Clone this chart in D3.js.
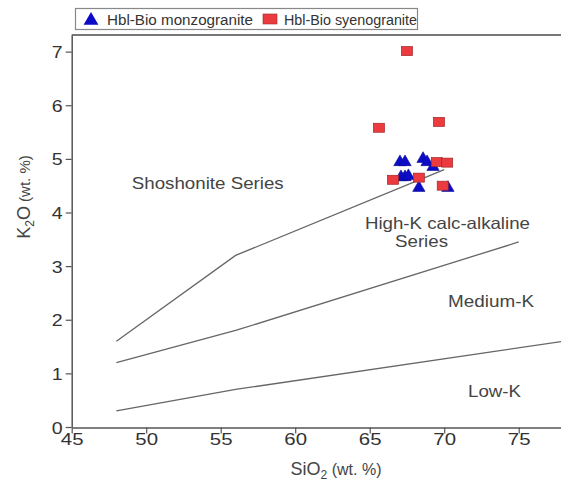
<!DOCTYPE html>
<html><head><meta charset="utf-8">
<script src="https://cdn.jsdelivr.net/npm/d3@7/dist/d3.min.js"></script>
<style>body{margin:0;background:#fff}svg{display:block}text{font-family:"Liberation Sans",Arial,sans-serif}</style>
</head><body>
<script>
const xTicks=[45,50,55,60,65,70,75];
const yTicks=[0,1,2,3,4,5,6,7];
const monzoSiO2=[67.03,67.37,68.58,68.85,69.25,67.10,67.37,67.6,68.3,70.25];
const monzoK2O=[4.94,4.94,5.00,4.94,4.85,4.66,4.66,4.68,4.46,4.46];
const syenoSiO2=[67.5,65.62,69.65,66.56,68.3,69.5,70.2,69.9];
const syenoK2O=[7.01,5.58,5.69,4.61,4.65,4.94,4.93,4.50];
const shoshLine=[[48,1.6],[56,3.2],[70,4.8]];
const highKLine=[[48,1.2],[56,1.8],[75,3.45]];
const lowKLine=[[48,0.3],[56,0.7],[78,1.6]];
const fieldText=["Shoshonite Series","High-K calc-alkaline","Series","Medium-K","Low-K"];
const fieldSiO2=[49.03,64.68,66.70,70.26,71.6];
const fieldK2O=[4.44,3.69,3.36,2.24,0.56];
const fieldWidth=[152,165,53,86,53];
const W=561,H=483;
const svg=d3.select("body").append("svg").attr("width",W).attr("height",H);
const x=d3.scaleLinear().domain([45,78]).range([71.7,563.4]);
const y=d3.scaleLinear().domain([0,7.31]).range([427,35]);
const axisCol="#555";
function stretch(sel,k){sel.each(function(){const w=this.getComputedTextLength();d3.select(this).attr("textLength",w*k).attr("lengthAdjust","spacingAndGlyphs");});}
svg.append("clipPath").attr("id","c").append("rect").attr("x",71).attr("y",34).attr("width",W-71).attr("height",394);
const g=svg.append("g").attr("clip-path","url(#c)");
const line=d3.line().x(d=>x(d[0])).y(d=>y(d[1]));
[shoshLine,highKLine,lowKLine].forEach(l=>{
 g.append("path").attr("d",line(l)).attr("fill","none").attr("stroke","#666").attr("stroke-width",1.3);
});
svg.append("line").attr("x1",71.7).attr("x2",W).attr("y1",35).attr("y2",35).attr("stroke","#777").attr("stroke-width",2);
const xa=svg.append("g").attr("transform","translate(0,427.5)").call(d3.axisBottom(x).tickValues(xTicks).tickSize(6).tickSizeOuter(0));
const ya=svg.append("g").attr("transform","translate(71.7,0)").call(d3.axisLeft(y).tickValues(yTicks).tickSize(6).tickSizeOuter(0));
[xa,ya].forEach(a=>{a.select(".domain").attr("stroke",axisCol).attr("stroke-width",1.5);
 a.selectAll(".tick line").attr("stroke",axisCol).attr("stroke-width",1.2);
 a.selectAll(".tick text").attr("fill","#333").style("font-size","17px").style("font-family","'Liberation Sans',Arial,sans-serif");});
xa.selectAll(".tick text").attr("dy",null).attr("y",17.5);
ya.selectAll(".tick text").attr("x",-9).attr("dy","0.36em");
stretch(xa.selectAll(".tick text"),1.2);
stretch(ya.selectAll(".tick text"),1.15);
fieldText.forEach((s,i)=>{
 svg.append("text").attr("x",x(fieldSiO2[i])).attr("y",y(fieldK2O[i])).attr("fill","#444")
  .style("font-size","16.5px").attr("textLength",fieldWidth[i]).attr("lengthAdjust","spacingAndGlyphs").text(s);
});
const monzo=monzoSiO2.map((s,i)=>[s,monzoK2O[i]]);
const syeno=syenoSiO2.map((s,i)=>[s,syenoK2O[i]]);
const tri=d3.symbol().type(d3.symbolTriangle).size(66);
g.selectAll(".tri").data(monzo).join("path").attr("d",tri)
 .attr("transform",d=>`translate(${x(d[0])},${y(d[1])})`).attr("fill","#0b0bc8").attr("stroke","#0a0a90").attr("stroke-width",0.6);
g.selectAll(".sq").data(syeno).join("rect").attr("x",d=>x(d[0])-5.5).attr("y",d=>y(d[1])-4.5)
 .attr("width",11).attr("height",9).attr("fill","#ec3b3f").attr("stroke","#a02528").attr("stroke-width",0.7);
const xt=svg.append("text").attr("x",336).attr("y",475).attr("text-anchor","middle").attr("fill","#444").style("font-size","18px");
xt.append("tspan").text("SiO");
xt.append("tspan").attr("dy",3.5).style("font-size","12px").text("2");
xt.append("tspan").attr("dy",-3.5).style("font-size","16px").text(" (wt. %)");
const yt=svg.append("text").attr("transform","translate(30,197) rotate(-90)").attr("text-anchor","middle").attr("fill","#444").style("font-size","18px");
yt.append("tspan").text("K");
yt.append("tspan").attr("dy",4).style("font-size","12px").text("2");
yt.append("tspan").attr("dy",-4).text("O");
yt.append("tspan").style("font-size","15px").text(" (wt. %)");
const lg=svg.append("g");
lg.append("rect").attr("x",75.5).attr("y",8.5).attr("width",342).attr("height",21).attr("fill","#fff").attr("stroke","#888").attr("stroke-width",1.2);
lg.append("path").attr("d",d3.symbol().type(d3.symbolTriangle).size(95)()).attr("transform","translate(91,20.5)").attr("fill","#0b0bc8");
lg.append("text").attr("x",107).attr("y",25).attr("fill","#333").style("font-size","14px").attr("textLength",146).attr("lengthAdjust","spacingAndGlyphs").text("Hbl-Bio monzogranite");
lg.append("rect").attr("x",263).attr("y",14).attr("width",14).attr("height",10).attr("fill","#ec3b3f").attr("stroke","#a02528").attr("stroke-width",0.6);
lg.append("text").attr("x",284).attr("y",25).attr("fill","#333").style("font-size","14px").attr("textLength",133).attr("lengthAdjust","spacingAndGlyphs").text("Hbl-Bio syenogranite");
</script>
</body></html>
